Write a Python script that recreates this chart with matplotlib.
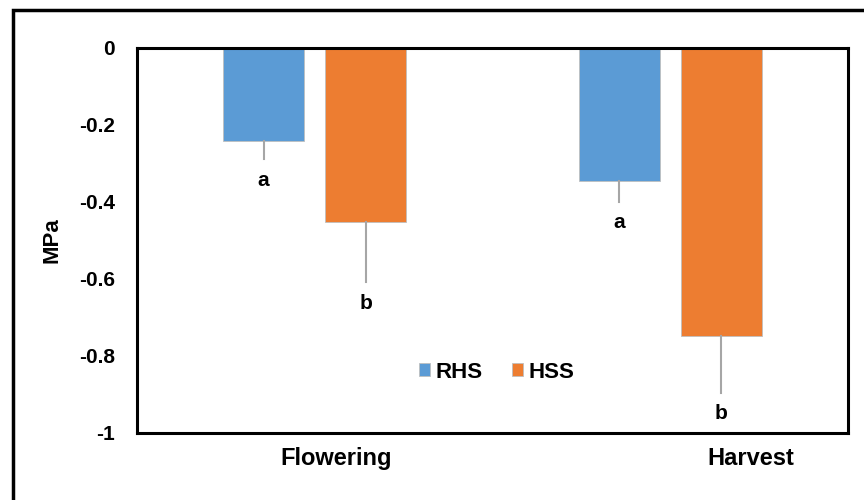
import matplotlib
matplotlib.use("Agg")
import matplotlib.pyplot as plt
from matplotlib.patches import Rectangle
from matplotlib.transforms import ScaledTranslation
import numpy as np

categories = ["Flowering", "Harvest"]
series_names = ["RHS", "HSS"]
rhs_values = [-0.243, -0.346]
hss_values = [-0.453, -0.748]
rhs_err = [0.047, 0.054]
hss_err = [0.156, 0.148]
rhs_letters = ["a", "a"]
hss_letters = ["b", "b"]
yticks = [0, -0.2, -0.4, -0.6, -0.8, -1]
ytick_labels = ["0", "-0.2", "-0.4", "-0.6", "-0.8", "-1"]

# horizontal shift of the category labels in the reference (pixels)
label_shift_px = [21, 81]

plt.rcParams['font.family'] = ['Liberation Sans', 'DejaVu Sans']
plt.rcParams['font.weight'] = 'bold'
plt.rcParams['axes.unicode_minus'] = False

fig = plt.figure(figsize=(8.64, 5.0), dpi=100)
ax = fig.add_axes([137/864, 1-433/500, (848-137)/864, (433-47.5)/500])

blue = "#5B9BD5"
orange = "#ED7D31"
errc = "#A6A6A6"

x = np.arange(len(categories))
w = 0.228
off = 0.144

for vals, errs, letters, col, name, sgn in [
        (rhs_values, rhs_err, rhs_letters, blue, series_names[0], -1),
        (hss_values, hss_err, hss_letters, orange, series_names[1], 1)]:
    xs = x + sgn*off
    ax.bar(xs, vals, width=w, color=col, label=name, zorder=2,
           edgecolor='#BFBFBF', linewidth=0.6)
    for xi, v, e, lt in zip(xs, vals, errs, letters):
        ax.plot([xi, xi], [v, v - e], color=errc, lw=1.5, zorder=3)
        ax.annotate(lt, (xi, v - e), xytext=(0, -15), textcoords='offset points',
                    ha='center', va='center', fontsize=15, fontweight='bold')

ax.set_xlim(-0.5, 1.5)
ax.set_ylim(-1, 0)
ax.set_yticks(yticks)
ax.set_yticklabels(ytick_labels)
ax.set_xticks(x)
ax.set_xticklabels(categories)
ax.tick_params(axis='y', length=0, pad=16, labelsize=15)
ax.tick_params(axis='x', length=0, pad=10, labelsize=17)
for lab in ax.get_xticklabels() + ax.get_yticklabels():
    lab.set_fontweight('bold')
for lab, sh in zip(ax.get_xticklabels(), label_shift_px):
    lab.set_transform(lab.get_transform() + ScaledTranslation(sh / 100, 0, fig.dpi_scale_trans))
for s in ax.spines.values():
    s.set_linewidth(2.2)
    s.set_color('black')
ax.set_ylabel("MPa", fontsize=16, fontweight='bold', labelpad=12)

leg = ax.legend(loc='center', bbox_to_anchor=(0.506, 0.158), ncol=2, frameon=False,
                handlelength=0.5, handleheight=0.5, handletextpad=0.25,
                columnspacing=1.3, prop={'size': 16, 'weight': 'bold'})

# outer border (cropped at right and bottom)
fig.patches.append(Rectangle((13/864, -0.1), 1.2, 1.1 - 10/500, transform=fig.transFigure,
                             fill=False, edgecolor='black', linewidth=2.5, clip_on=False))

fig.savefig("out.png", dpi=100)
